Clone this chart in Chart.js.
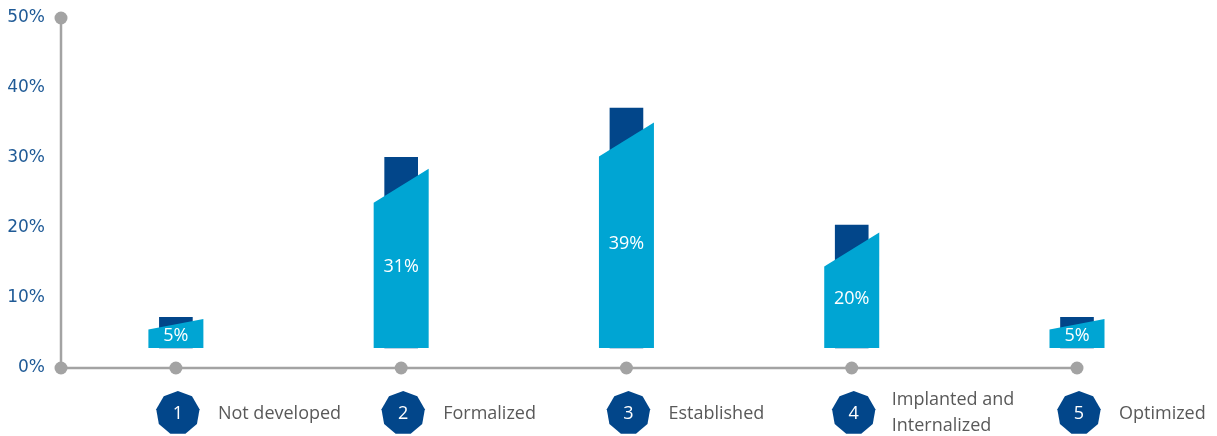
<!DOCTYPE html>
<html>
<head>
<meta charset="utf-8">
<script src="https://cdn.jsdelivr.net/npm/chart.js@4/dist/chart.umd.min.js"></script>
<style>
    body { margin: 0; background: #ffffff; }
    #maturity { display: block; }
</style>
</head>
<body>
<canvas id="maturity" width="1217" height="436"></canvas>
<script>
// Maturity levels and share of respondents at each level
const levels = [1, 2, 3, 4, 5];
const levelNames = ["Not developed", "Formalized", "Established", ["Implanted and", "Internalized"], "Optimized"];
const shares = [5, 31, 39, 20, 5];
const yTicks = [0, 10, 20, 30, 40, 50];

const NAVY = "#02468a";
const LIGHT = "#00a5d3";
const AXIS = "#a3a3a3";
const FONT = "'Open Sans', Lato, sans-serif";
const TICK_FONT = "'DejaVu Sans', sans-serif";

const points = levels.map((lvl, i) => ({ x: lvl, y: shares[i] }));

// Gray axis lines with round markers at the ends and at every level
const axisPlugin = {
    id: "axisPlugin",
    beforeDatasetsDraw(chart) {
        const { ctx, chartArea, scales } = chart;
        const left = chartArea.left;
        const bottom = chartArea.bottom;
        ctx.save();
        ctx.strokeStyle = AXIS;
        ctx.lineWidth = 2.5;
        ctx.beginPath();
        ctx.moveTo(left, chartArea.top);
        ctx.lineTo(left, bottom);
        ctx.lineTo(scales.x.getPixelForValue(levels[levels.length - 1]), bottom);
        ctx.stroke();

        ctx.fillStyle = AXIS;
        const dots = [[left, chartArea.top], [left, bottom]];
        levels.forEach(lvl => dots.push([scales.x.getPixelForValue(lvl), bottom]));
        dots.forEach(([x, y]) => {
            ctx.beginPath();
            ctx.arc(x, y, 6.5, 0, Math.PI * 2);
            ctx.fill();
        });
        ctx.restore();
    }
};

// Front face of each bar with a slanted top, plus the value label
const barFacePlugin = {
    id: "barFacePlugin",
    afterDatasetsDraw(chart) {
        const ctx = chart.ctx;
        const meta = chart.getDatasetMeta(1);
        ctx.save();
        meta.data.forEach((bar, i) => {
            const h = bar.base - bar.y;
            const rightTop = bar.y + h * 0.06;
            const leftTop = rightTop + Math.min(34, (bar.base - rightTop) * 0.36);
            const half = bar.width / 2;

            ctx.fillStyle = LIGHT;
            ctx.beginPath();
            ctx.moveTo(bar.x - half, bar.base);
            ctx.lineTo(bar.x - half, leftTop);
            ctx.lineTo(bar.x + half, rightTop);
            ctx.lineTo(bar.x + half, bar.base);
            ctx.closePath();
            ctx.fill();

            ctx.fillStyle = "#ffffff";
            ctx.font = "18px " + FONT;
            ctx.textAlign = "center";
            ctx.textBaseline = "middle";
            const labelY = ((leftTop + rightTop) / 2 + bar.base) / 2;
            ctx.fillText(shares[i] + "%", bar.x, labelY);
        });
        ctx.restore();
    }
};

// Numbered badges and level names under the axis
const badgePlugin = {
    id: "badgePlugin",
    afterDraw(chart) {
        const ctx = chart.ctx;
        const x = chart.scales.x;
        const cy = 413;
        const r = 22;
        const sides = 9;
        ctx.save();
        levels.forEach((lvl, i) => {
            const cx = x.getPixelForValue(lvl) + 2;
            ctx.fillStyle = NAVY;
            ctx.beginPath();
            for (let k = 0; k < sides; k++) {
                const a = -Math.PI / 2 + k * 2 * Math.PI / sides;
                const px = cx + r * Math.cos(a);
                const py = cy + r * Math.sin(a);
                if (k === 0) ctx.moveTo(px, py); else ctx.lineTo(px, py);
            }
            ctx.closePath();
            ctx.fill();

            ctx.fillStyle = "#ffffff";
            ctx.font = "18px " + FONT;
            ctx.textAlign = "center";
            ctx.textBaseline = "middle";
            ctx.fillText(String(lvl), cx, cy + 1);

            ctx.fillStyle = "#595959";
            ctx.textAlign = "left";
            const name = levelNames[i];
            if (Array.isArray(name)) {
                ctx.fillText(name[0], cx + 38, cy - 13);
                ctx.fillText(name[1], cx + 38, cy + 13);
            } else {
                ctx.fillText(name, cx + 40, cy + 1);
            }
        });
        ctx.restore();
    }
};

new Chart(document.getElementById("maturity"), {
    type: "bar",
    data: {
        datasets: [
            {
                label: "Share",
                data: points,
                backgroundColor: NAVY,
                barThickness: 33,
                grouped: false,
                clip: false,
                yAxisID: "y"
            },
            {
                label: "Share face",
                data: points,
                backgroundColor: "rgba(0,0,0,0)",
                barThickness: 55,
                grouped: false,
                clip: false,
                yAxisID: "y"
            }
        ]
    },
    options: {
        responsive: false,
        animation: false,
        layout: { padding: { top: 18, right: 140, bottom: 68, left: 0 } },
        plugins: {
            legend: { display: false },
            tooltip: { enabled: false }
        },
        scales: {
            x: {
                type: "linear",
                min: 0.49,
                max: 5,
                offset: false,
                display: false
            },
            y: {
                min: -3.25,
                max: 53.66,
                display: false
            },
            y2: {
                position: "left",
                min: 0,
                max: 50,
                afterFit: scale => {
                    scale.width = 61;
                    scale.paddingTop = 0;
                    scale.paddingBottom = 0;
                },
                afterBuildTicks: scale => { scale.ticks = yTicks.map(v => ({ value: v })); },
                grid: { display: false, drawTicks: false },
                border: { display: false },
                ticks: {
                    padding: 16,
                    color: "#1f5a96",
                    font: { family: TICK_FONT, size: 17 },
                    callback: v => v + "%"
                }
            }
        }
    },
    plugins: [axisPlugin, barFacePlugin, badgePlugin]
});
</script>
</body>
</html>
